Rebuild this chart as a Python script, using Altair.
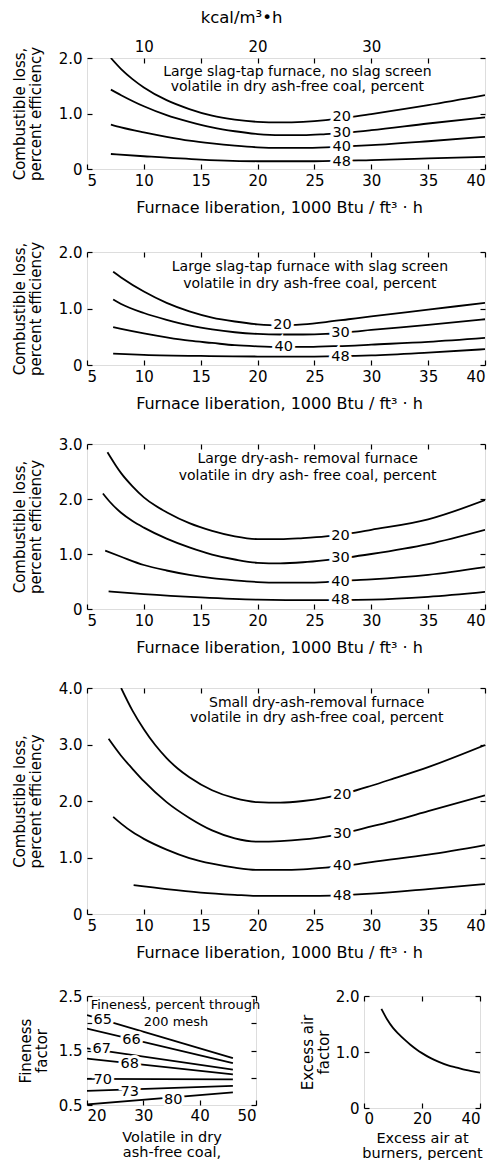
import altair as alt
import pandas as pd

FONT = "DejaVu Sans"
XTITLE = "Furnace liberation, 1000 Btu / ft³ · h"
YTITLE = ["Combustible loss,", "percent efficiency"]
SERIES = ["20", "30", "40", "48"]
NOTE2 = "volatile in dry ash-free coal, percent"

# ---------------- Panel 1: Large slag-tap furnace, no slag screen ----------------
p1_x20 = [7.1, 8, 9, 10, 12, 14, 16, 18, 20, 22, 24, 26, 28, 30, 35, 40]
p1_y20 = [2.0, 1.8, 1.62, 1.47, 1.24, 1.08, 0.96, 0.89, 0.85, 0.84, 0.85, 0.88, 0.93, 0.99, 1.15, 1.33]
p1_x30 = [7.1, 8, 10, 12, 14, 16, 18, 20, 22, 24, 26, 28, 30, 35, 40]
p1_y30 = [1.43, 1.33, 1.13, 0.97, 0.85, 0.75, 0.68, 0.63, 0.61, 0.61, 0.63, 0.66, 0.70, 0.82, 0.93]
p1_x40 = [7.1, 8, 10, 12, 14, 16, 18, 20, 22, 24, 26, 28, 30, 35, 40]
p1_y40 = [0.80, 0.75, 0.66, 0.58, 0.51, 0.46, 0.42, 0.39, 0.38, 0.38, 0.39, 0.41, 0.43, 0.50, 0.58]
p1_x48 = [7.1, 10, 15, 20, 25, 30, 35, 40]
p1_y48 = [0.27, 0.23, 0.17, 0.14, 0.14, 0.16, 0.19, 0.22]
p1_lab_x = [27.4, 27.4, 27.4, 27.4]
p1_lab_y = [0.94, 0.64, 0.40, 0.13]
p1_note = ["Large slag-tap furnace, no slag screen", NOTE2]
p1_note_x = [23.5, 23.5]
p1_note_y = [1.75, 1.48]

# ---------------- Panel 2: Large slag-tap furnace with slag screen ----------------
p2_x20 = [7.3, 8, 10, 12, 14, 16, 18, 20, 22, 24, 26, 28, 30, 35, 40]
p2_y20 = [1.65, 1.55, 1.30, 1.10, 0.95, 0.84, 0.77, 0.72, 0.70, 0.72, 0.76, 0.81, 0.86, 0.98, 1.10]
p2_x30 = [7.3, 8, 10, 12, 14, 16, 18, 20, 22, 24, 26, 28, 30, 35, 40]
p2_y30 = [1.16, 1.08, 0.92, 0.80, 0.70, 0.63, 0.58, 0.55, 0.54, 0.54, 0.55, 0.58, 0.62, 0.71, 0.81]
p2_x40 = [7.3, 8, 10, 12, 14, 16, 18, 20, 22, 24, 26, 28, 30, 35, 40]
p2_y40 = [0.67, 0.64, 0.56, 0.49, 0.43, 0.39, 0.35, 0.33, 0.32, 0.32, 0.33, 0.34, 0.36, 0.41, 0.48]
p2_x48 = [7.3, 10, 15, 20, 25, 30, 35, 40]
p2_y48 = [0.20, 0.18, 0.16, 0.15, 0.15, 0.17, 0.22, 0.28]
p2_lab_x = [22.2, 27.3, 22.3, 27.3]
p2_lab_y = [0.70, 0.57, 0.32, 0.14]
p2_note = ["Large slag-tap furnace with slag screen", NOTE2]
p2_note_x = [24.6, 24.6]
p2_note_y = [1.73, 1.43]

# ---------------- Panel 3: Large dry-ash-removal furnace ----------------
p3_x20 = [6.8, 7.5, 8, 9, 10, 11, 12, 14, 16, 18, 20, 22, 24, 26, 28, 30, 35, 40]
p3_y20 = [2.85, 2.62, 2.47, 2.23, 2.03, 1.88, 1.76, 1.56, 1.42, 1.32, 1.27, 1.27, 1.29, 1.32, 1.37, 1.44, 1.63, 1.98]
p3_x30 = [6.4, 7, 8, 9, 10, 12, 14, 16, 18, 20, 22, 24, 26, 28, 30, 35, 40]
p3_y30 = [2.1, 1.95, 1.75, 1.6, 1.48, 1.28, 1.12, 0.99, 0.90, 0.84, 0.83, 0.85, 0.89, 0.94, 1.0, 1.18, 1.44]
p3_x40 = [6.6, 8, 10, 12, 14, 16, 18, 20, 22, 24, 26, 28, 30, 35, 40]
p3_y40 = [1.06, 0.95, 0.80, 0.70, 0.62, 0.56, 0.52, 0.49, 0.48, 0.48, 0.49, 0.52, 0.54, 0.62, 0.76]
p3_x48 = [6.9, 10, 15, 20, 25, 30, 35, 40]
p3_y48 = [0.32, 0.27, 0.21, 0.17, 0.16, 0.17, 0.22, 0.31]
p3_lab_x = [27.3, 27.3, 27.3, 27.3]
p3_lab_y = [1.33, 0.93, 0.50, 0.16]
p3_note = ["Large dry-ash- removal furnace", "volatile in dry ash- free coal, percent"]
p3_note_x = [24.4, 24.4]
p3_note_y = [2.72, 2.41]

# ---------------- Panel 4: Small dry-ash-removal furnace ----------------
p4_x20 = [8.0, 9, 10, 11, 12, 13, 14, 16, 18, 20, 22, 24, 26, 28, 30, 32, 35, 40]
p4_y20 = [4.0, 3.6, 3.27, 2.99, 2.76, 2.57, 2.42, 2.19, 2.05, 1.98, 1.97, 2.0, 2.06, 2.15, 2.27, 2.4, 2.6, 2.99]
p4_x30 = [6.9, 8, 9, 10, 12, 14, 16, 18, 20, 22, 24, 26, 28, 30, 32, 35, 40]
p4_y30 = [3.1, 2.8, 2.57, 2.35, 1.98, 1.7, 1.48, 1.34, 1.28, 1.29, 1.32, 1.37, 1.45, 1.55, 1.65, 1.82, 2.1]
p4_x40 = [7.3, 8, 9, 10, 12, 14, 16, 18, 20, 22, 24, 26, 28, 30, 35, 40]
p4_y40 = [1.72, 1.6, 1.45, 1.33, 1.14, 0.99, 0.89, 0.82, 0.78, 0.78, 0.79, 0.82, 0.86, 0.92, 1.05, 1.22]
p4_x48 = [9.1, 12, 15, 18, 20, 25, 30, 35, 40]
p4_y48 = [0.51, 0.44, 0.38, 0.34, 0.32, 0.32, 0.36, 0.44, 0.53]
p4_lab_x = [27.45, 27.45, 27.45, 27.45]
p4_lab_y = [2.11, 1.42, 0.85, 0.32]
p4_note = ["Small dry-ash-removal furnace", NOTE2]
p4_note_x = [25.2, 25.2]
p4_note_y = [3.73, 3.47]

# ---------------- Panel 5: Fineness factor ----------------
fin_names = ["65", "66", "67", "68", "70", "73", "80"]
fin_x = [20, 45.9]
fin_65 = [2.15, 1.36]
fin_66 = [1.90, 1.27]
fin_67 = [1.54, 1.15]
fin_68 = [1.35, 1.06]
fin_70 = [0.98, 0.97]
fin_73 = [0.76, 0.85]
fin_80 = [0.51, 0.73]
fin_lab_x = [22.8, 27.9, 22.6, 27.6, 22.8, 27.6, 35.3]
fin_lab_y = [2.06, 1.69, 1.52, 1.25, 0.96, 0.74, 0.60]
fin_note = ["Fineness, percent through", "200 mesh"]
fin_note_x = [35.7, 35.8]
fin_note_y = [2.33, 2.02]

# ---------------- Panel 6: Excess air factor ----------------
ea_x = [6, 8, 10, 12, 14, 16, 18, 20, 23, 26, 29, 32, 35, 40]
ea_y = [1.77, 1.58, 1.43, 1.32, 1.22, 1.13, 1.05, 0.98, 0.89, 0.82, 0.76, 0.72, 0.68, 0.63]


def curves_df(xs, ys, names):
    rows = []
    for xl, yl, n in zip(xs, ys, names):
        for i, (a, b) in enumerate(zip(xl, yl)):
            rows.append({"s": n, "i": i, "x": a, "y": b})
    return pd.DataFrame(rows)


def text_df(xs, ys, texts):
    return pd.DataFrame({"x": xs, "y": ys, "t": texts})


AX = dict(domain=False, grid=False, offset=-5, tickSize=5, tickColor="black", tickWidth=1.2,
          labelFont=FONT, labelFontSize=15, labelColor="black", labelPadding=5,
          titleFont=FONT, titleFontSize=15, titleFontWeight="normal", titleColor="black",
          titleLineHeight=16)

ZERO_EXPR = "datum.value == 0 ? '0' : format(datum.value, '.1f')"


def panel(df, labs, notes, xdom, xvals, xtitle, ydom, yvals, ytitle, w, h,
          ylabel_expr=ZERO_EXPR, top_title=None, top_vals=None, top_expr=None,
          xtitle_pad=11, ytitle_pad=15, xtitle_size=16, ytitle_size=15, lab_size=14.5,
          note_size=14, xlab_pad=4, xtitle_lh=16, xtitle_x=None):
    xax = dict(AX, values=xvals, title=xtitle, titlePadding=xtitle_pad, format="d",
               titleFontSize=xtitle_size, labelPadding=xlab_pad, titleLineHeight=xtitle_lh)
    if xtitle_x is not None:
        xax["titleX"] = xtitle_x
    X = alt.X("x:Q", scale=alt.Scale(domain=xdom, nice=False, zero=False), axis=alt.Axis(**xax))
    Y = alt.Y("y:Q", scale=alt.Scale(domain=ydom, nice=False, zero=False),
              axis=alt.Axis(**dict(AX, values=yvals, title=ytitle, titlePadding=ytitle_pad,
                                   titleFontSize=ytitle_size, labelExpr=ylabel_expr)))
    lines = alt.Chart(df).mark_line(color="black", strokeWidth=1.8, interpolate="monotone",
                                    clip=True).encode(x=X, y=Y, detail="s:N", order="i:Q")
    layers = [lines]
    if labs is not None:
        halo = alt.Chart(labs).mark_text(font=FONT, fontSize=lab_size, color="white", stroke="white",
                                         strokeWidth=6).encode(x=X, y=Y, text="t:N")
        lab = alt.Chart(labs).mark_text(font=FONT, fontSize=lab_size, color="black").encode(
            x=X, y=Y, text="t:N")
        layers += [halo, lab]
    if notes is not None:
        nt = alt.Chart(notes).mark_text(font=FONT, fontSize=note_size, color="black").encode(
            x=X, y=Y, text="t:N")
        layers.append(nt)
    inner = alt.layer(*layers)

    top = dict(AX, orient="top", values=top_vals or xvals, title=None, labels=False)
    if top_title is not None:
        top.update(labels=True, title=top_title, labelExpr=top_expr, titlePadding=14,
                   titleFontSize=16.5, labelPadding=4, titleX=154)
    ghost = alt.Chart(df).mark_point(opacity=0).encode(
        x=alt.X("x:Q", scale=alt.Scale(domain=xdom, nice=False, zero=False), axis=alt.Axis(**top)),
        y=alt.Y("y:Q", scale=alt.Scale(domain=ydom, nice=False, zero=False),
                axis=alt.Axis(**dict(AX, orient="right", values=yvals, title=None, labels=False))),
    )
    return alt.layer(inner, ghost).resolve_scale(x="independent", y="independent").properties(
        width=w, height=h)


FX = [5, 10, 15, 20, 25, 30, 35, 40]


def furnace(xs, ys, lx, ly, nt, nx, ny, ydom, yvals, h, **kw):
    df = curves_df(xs, ys, SERIES)
    labs = text_df(lx, ly, SERIES)
    notes = text_df(nx, ny, nt)
    return panel(df, labs, notes, [5, 40], FX, XTITLE, ydom, yvals, YTITLE, 398, h,
                 xtitle_x=192, **kw)


p1 = furnace([p1_x20, p1_x30, p1_x40, p1_x48], [p1_y20, p1_y30, p1_y40, p1_y48],
             p1_lab_x, p1_lab_y, p1_note, p1_note_x, p1_note_y, [0, 2], [0, 1, 2], 111,
             top_title="kcal/m³•h", top_vals=[10, 15, 20, 25, 30, 35],
             top_expr="datum.value % 10 == 0 ? format(datum.value, 'd') : ''")
p2 = furnace([p2_x20, p2_x30, p2_x40, p2_x48], [p2_y20, p2_y30, p2_y40, p2_y48],
             p2_lab_x, p2_lab_y, p2_note, p2_note_x, p2_note_y, [0, 2], [0, 1, 2], 113)
p3 = furnace([p3_x20, p3_x30, p3_x40, p3_x48], [p3_y20, p3_y30, p3_y40, p3_y48],
             p3_lab_x, p3_lab_y, p3_note, p3_note_x, p3_note_y, [0, 3], [0, 1, 2, 3], 165)
p4 = furnace([p4_x20, p4_x30, p4_x40, p4_x48], [p4_y20, p4_y30, p4_y40, p4_y48],
             p4_lab_x, p4_lab_y, p4_note, p4_note_x, p4_note_y, [0, 4], [0, 1, 2, 3, 4], 226)

fin_df = curves_df([fin_x] * 7, [fin_65, fin_66, fin_67, fin_68, fin_70, fin_73, fin_80], fin_names)
p5 = panel(fin_df, text_df(fin_lab_x, fin_lab_y, fin_names), text_df(fin_note_x, fin_note_y, fin_note),
           [20, 50], [20, 30, 40, 50], ["Volatile in dry", "ash-free coal,"],
           [0.5, 2.5], [0.5, 1.0, 1.5, 2.0, 2.5], ["Fineness", "factor"], 169, 109,
           ylabel_expr="(datum.value * 2) % 2 == 1 ? format(datum.value, '.1f') : ''",
           xtitle_pad=7, ytitle_pad=9, xtitle_size=14.5, note_size=13, xlab_pad=3, xtitle_lh=15)

ea_df = curves_df([ea_x], [ea_y], ["ea"])
p6 = panel(ea_df, None, None, [0, 40], [0, 20, 40], ["Excess air at", "burners, percent"],
           [0, 2], [0, 1, 2], ["Excess air", "factor"], 116, 112, xtitle_pad=5, ytitle_pad=4,
           xtitle_size=14.5, xlab_pad=3, xtitle_lh=15)

furnaces = alt.vconcat(p1, p2, p3, p4, spacing=24)
bottom = alt.hconcat(p5, p6, spacing=38)
chart = alt.vconcat(furnaces, bottom, spacing=27).properties(
    padding={"left": 3, "top": 0, "right": 0, "bottom": 0}
).configure_view(stroke="black", strokeWidth=1.4).configure(background="white")

chart.save("out.html", embed_options={"renderer": "svg", "actions": False})
